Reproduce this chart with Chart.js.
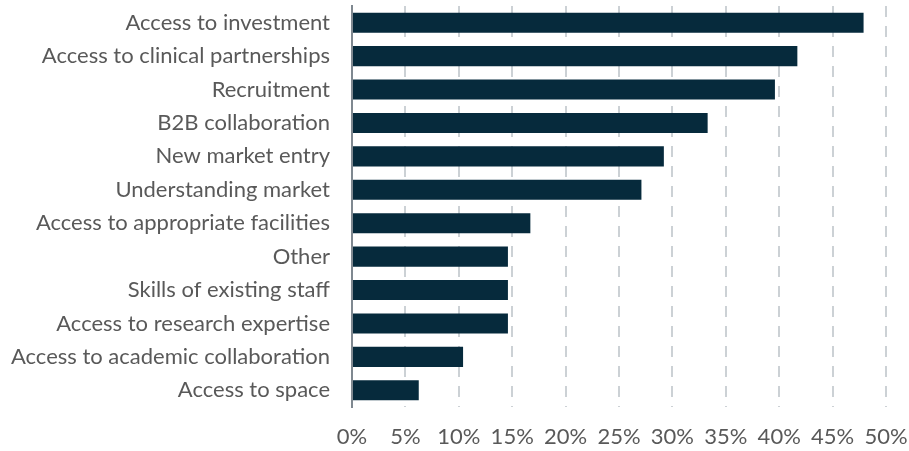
<!DOCTYPE html>
<html><head><meta charset="utf-8">
<script src="https://cdn.jsdelivr.net/npm/chart.js@4/dist/chart.umd.min.js"></script>
<style>html,body{margin:0;padding:0;background:#fff}#w{width:909px;height:451px}</style>
</head><body><div id="w"><canvas id="c"></canvas></div>
<script>
const categories = ["Access to investment","Access to clinical partnerships","Recruitment","B2B collaboration","New market entry","Understanding market","Access to appropriate facilities","Other","Skills of existing staff","Access to research expertise","Access to academic collaboration","Access to space"];
const values = [47.9, 41.7, 39.6, 33.3, 29.2, 27.1, 16.7, 14.6, 14.6, 14.6, 10.4, 6.25];
const xTicks = [0,5,10,15,20,25,30,35,40,45,50];

new Chart(document.getElementById('c'), {
  type: 'bar',
  data: { labels: categories, datasets: [{ data: values, backgroundColor: '#062a3c', barPercentage: 0.6, categoryPercentage: 1.0 }] },
  options: {
    indexAxis: 'y', responsive: true, maintainAspectRatio: false, animation: false,
    layout: { padding: { left: 0, right: 23, top: 6, bottom: 0 } },
    plugins: { legend: { display: false }, tooltip: { enabled: false } },
    scales: {
      x: {
        min: 0, max: 50,
        afterBuildTicks: s => { s.ticks = xTicks.map(v => ({ value: v })); },
        grid: { drawTicks: false, lineWidth: 2, color: ctx => ctx.index === 0 ? 'rgba(0,0,0,0)' : '#ccd1d5' },
        border: { display: false, dash: [11, 9] },
        ticks: { padding: 17, color: '#595959', font: { family: 'Lato', size: 22 }, callback: v => v + '%' },
        afterFit: s => { s.height = 44; s.paddingLeft = 0; s.paddingRight = 0; }
      },
      y: {
        grid: { display: false, drawTicks: false },
        border: { display: true, color: '#7f8890', width: 2 },
        ticks: { padding: 22, color: '#595959', font: { family: 'Lato', size: 22 } },
        afterFit: s => { s.width = 352; s.paddingTop = 0; s.paddingBottom = 0; }
      }
    }
  }
});
</script></body></html>
